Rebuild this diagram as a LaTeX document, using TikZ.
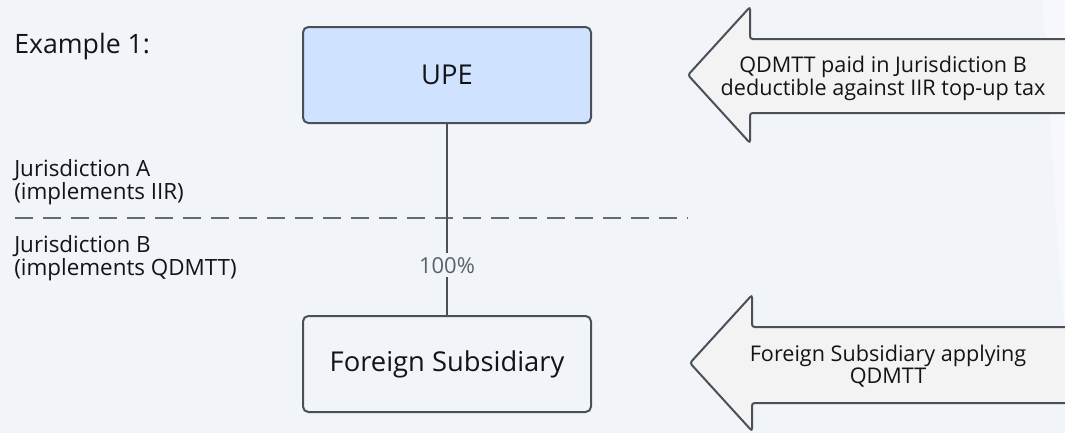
\documentclass[tikz,border=0pt]{standalone}
\usepackage{fontspec}
\setmainfont{Open Sans}
\usetikzlibrary{positioning,calc}
\definecolor{bgcol}{HTML}{F1F4F9}
\definecolor{upecol}{HTML}{CFE2FF}
\definecolor{edgecol}{HTML}{4B5058}
\definecolor{arrcol}{HTML}{F3F3F4}
\definecolor{txtcol}{HTML}{141416}
\tikzset{box0/.style={draw=edgecol, line width=1.5pt, rounded corners=4, minimum width=216pt, minimum height=72pt, text=txtcol, font=\fontsize{20.5}{24}\selectfont}}
\tikzset{jlbl/.style={anchor=north west, align=left, inner sep=0pt, text=txtcol, font=\fontsize{16.8}{17.5}\selectfont}}
\tikzset{arrtxt/.style={align=center, inner sep=0pt, text=txtcol, font=\fontsize{16.2}{15.5}\selectfont}}
\tikzset{bigarr/.style={draw=edgecol, line width=1.5pt, fill=arrcol, rounded corners=2}}
\tikzset{link/.style={draw=edgecol, line width=1.5pt}}
\begin{document}
\begin{tikzpicture}[x=0.75pt, y=-0.75pt]
    \useasboundingbox (0,0) rectangle (1065,433);
    \fill[bgcol] (0,0) rectangle (1065,433);
    \clip (0,0) rectangle (1065,433);
    % faint light patch on the right edge
    \fill[white, opacity=0.45] (1042,0) .. controls (1052,120) and (1056,250) .. (1065,330) -- (1065,0) -- cycle;
%
    \node[box0, fill=upecol] (UPE) at (447,75) {UPE};
    \node[box0] (FS) at (447,364) {Foreign Subsidiary};
%
    \node[anchor=base west, inner sep=0pt, text=txtcol, font=\fontsize{20}{24}\selectfont] (ex) at (14,53) {Example 1:};
    \node[jlbl] (JA) at (14,159) {Jurisdiction A\\(implements IIR)};
    \node[jlbl] (JB) at (14,235) {Jurisdiction B\\(implements QDMTT)};
%
    \coordinate (dl) at (15,218);
    \coordinate (dr) at (688,218);
    \draw[edgecol!85, line width=0.9pt, dash pattern=on 13.5pt off 7.5pt] (dl) -- (dr);
%
    \draw[link] (UPE.south) -- node[pos=0.74, fill=bgcol, inner sep=3pt, text=edgecol!90, font=\fontsize{16.5}{18}\selectfont]{100\%} (FS.north);
%
    % arrows on the right
    \draw[bigarr] (1075,39) -- (750,39) -- (750,7) -- (688,75) -- (750,143) -- (750,113) -- (1075,113);
    \node[arrtxt] (txtA) at (883,78) {QDMTT paid in Jurisdiction B\\deductible against IIR top-up tax};
    \draw[bigarr] (1075,327) -- (752,327) -- (752,295) -- (690,363) -- (752,431) -- (752,403) -- (1075,403);
    \node[arrtxt] (txtB) at (888,366) {Foreign Subsidiary applying\\QDMTT};
\end{tikzpicture}
\end{document}
